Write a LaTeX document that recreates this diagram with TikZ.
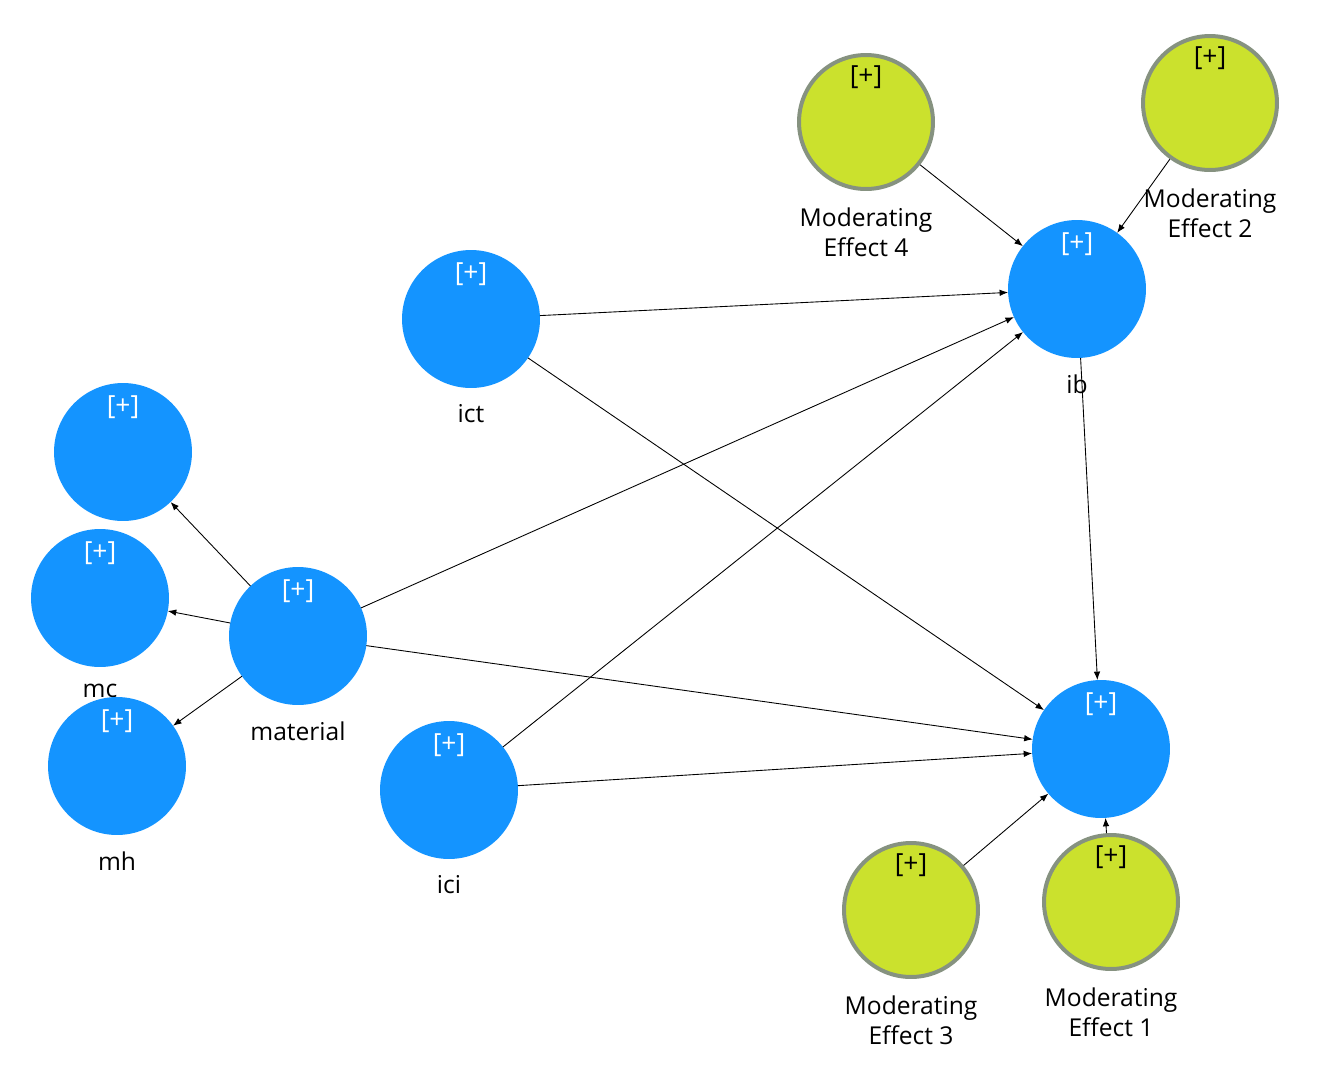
\documentclass[tikz,border=0pt]{standalone}
\usepackage{fontspec}
\setmainfont{Open Sans}
\usetikzlibrary{arrows.meta}

\definecolor{lvblue}{RGB}{20,148,255}
\definecolor{modgreen}{RGB}{203,225,45}
\definecolor{modrim}{RGB}{134,146,128}

\begin{document}
\begin{tikzpicture}[
    x=0.02cm, y=-0.02cm,
    every node/.style={font=\fontsize{14}{17}\selectfont},
    lv/.style={circle, fill=lvblue, minimum size=2.76cm, inner sep=0pt, outer sep=0pt},
    mod/.style={circle, fill=modgreen, draw=modrim, line width=0.08cm, minimum size=2.68cm, inner sep=0pt},
    tagw/.style={text=white, font=\fontsize{15}{17}\selectfont, anchor=north, yshift=-0.12cm},
    tagb/.style={text=black, font=\fontsize{15}{17}\selectfont, anchor=north, yshift=-0.12cm},
    captext/.style={align=center, label distance=0.21cm},
    arrow/.style={-{Latex[length=0.17cm,width=0.13cm]}, line width=0.5pt}
  ]
    \useasboundingbox (0,0) rectangle (1339,1082);

    % moderators
    \node[mod, label={[tagb]north:{[+]}}, label={[captext]below:{Moderating\\Effect 4}}] (me4) at (866,122) {};
    \node[mod, label={[tagb]north:{[+]}}, label={[captext]below:{Moderating\\Effect 2}}] (me2) at (1210,103) {};
    \node[mod, label={[tagb]north:{[+]}}, label={[captext]below:{Moderating\\Effect 3}}] (me3) at (911,910) {};

    % latent variables
    \node[lv, label={[tagw]north:{[+]}}, label={[captext]below:ib}] (ib) at (1077,289) {};
    \node[lv, label={[tagw]north:{[+]}}, label={[captext]below:ict}] (ict) at (471,319) {};
    \node[lv, label={[tagw]north:{[+]}}] (mt) at (123,452) {};
    \node[lv, label={[tagw]north:{[+]}}, label={[captext]below:mc}] (mc) at (100,598) {};
    \node[lv, label={[tagw]north:{[+]}}, label={[captext]below:mh}] (mh) at (117,766) {};
    \node[lv, label={[tagw]north:{[+]}}, label={[captext]below:material}] (material) at (298,636) {};
    \node[lv, label={[tagw]north:{[+]}}, label={[captext]below:ici}] (ici) at (449,790) {};
    \node[lv, label={[tagw]north:{[+]}}] (out) at (1101,749) {};

    \node[mod, label={[tagb]north:{[+]}}, label={[captext]below:{Moderating\\Effect 1}}] (me1) at (1111,902) {};

    % paths
    \draw[arrow] (material) -- (mt);
    \draw[arrow] (material) -- (mc);
    \draw[arrow] (material) -- (mh);
    \draw[arrow] (material) -- (ib);
    \draw[arrow] (material) -- (out);
    \draw[arrow] (ict) -- (ib);
    \draw[arrow] (ict) -- (out);
    \draw[arrow] (ici) -- (ib);
    \draw[arrow] (ici) -- (out);
    \draw[arrow] (ib) -- (out);
    \draw[arrow] (me4) -- (ib);
    \draw[arrow] (me2) -- (ib);
    \draw[arrow] (me3) -- (out);
    \draw[arrow] (me1) -- (out);
  \end{tikzpicture}
\end{document}
